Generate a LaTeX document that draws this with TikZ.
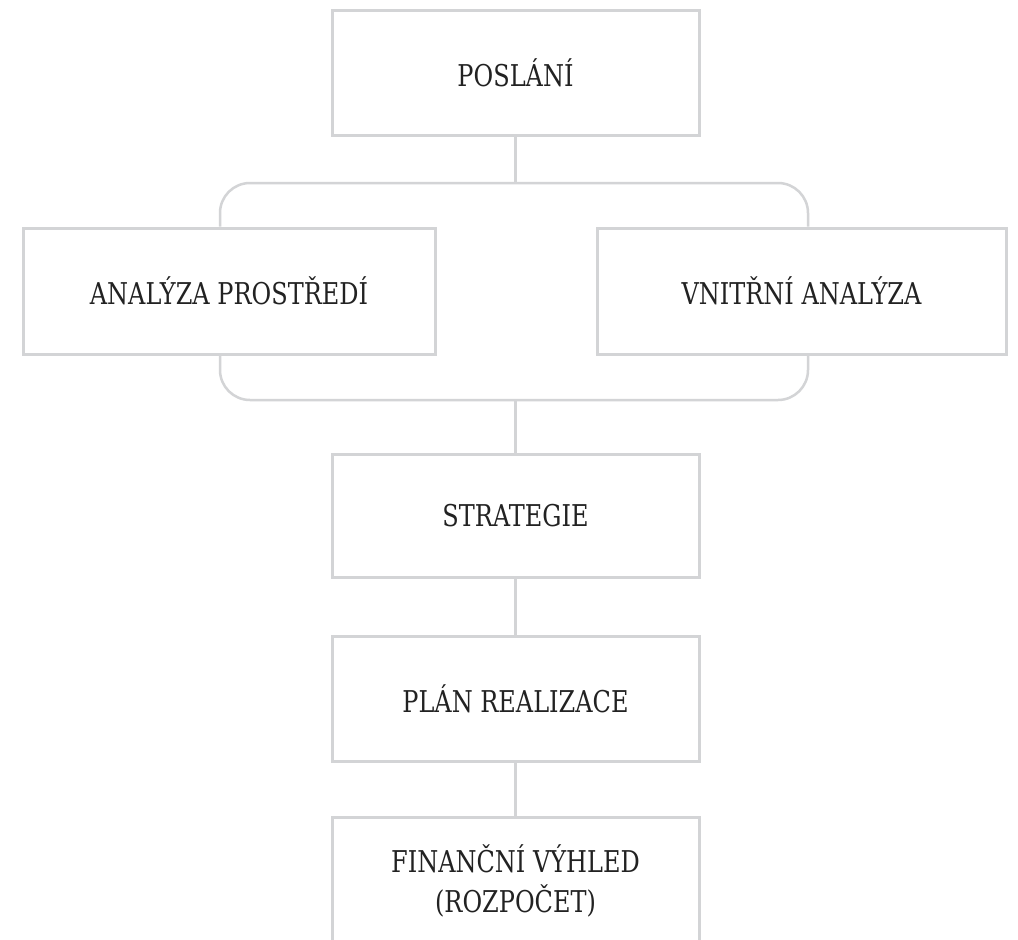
\documentclass[tikz,border=0pt]{standalone}
\usepackage{fontspec}
\setmainfont[FakeStretch=0.8]{DejaVu Serif}
\definecolor{linegray}{HTML}{D3D4D6}
\definecolor{txt}{HTML}{222222}
\begin{document}
\begin{tikzpicture}[x=1pt,y=-1pt,
  box/.style={draw=linegray, line width=3pt, minimum width=367pt, minimum height=125pt, inner sep=0pt, text=txt, font=\fontsize{30}{40}\selectfont, align=center},
  link/.style={draw=linegray, line width=3pt},
  brace/.style={draw=linegray, line width=2.5pt, rounded corners=30pt}]
\useasboundingbox (0,0) rectangle (1018,940);
\clip (0,0) rectangle (1018,940);
\fill[white] (0,0) rectangle (1018,940);
\node[box] (posl) at (515.5,73) {POSLÁNÍ};
\node[box, minimum width=412pt, minimum height=126pt] (env) at (229,291) {ANALÝZA PROSTŘEDÍ};
\node[box, minimum width=409pt, minimum height=126pt] (inner) at (801.5,291) {VNITŘNÍ ANALÝZA};
\node[box, minimum height=123pt] (strat) at (515.5,515.5) {STRATEGIE};
\node[box] (plan) at (515.5,698.5) {PLÁN REALIZACE};
\node[box, minimum height=127pt] (fin) at (515.5,880.5) {FINANČNÍ VÝHLED\\(ROZPOČET)};
\coordinate (tj) at (515.5,183);
\coordinate (bj) at (515.5,400);
\coordinate (xl) at (220,0);
\coordinate (xr) at (808,0);
\draw[link] (posl) -- (tj);
\draw[brace] (xl |- env.north) |- (tj) -| (xr |- inner.north);
\draw[brace] (xl |- env.south) |- (bj) -| (xr |- inner.south);
\draw[link] (bj) -- (strat);
\draw[link] (strat) -- (plan);
\draw[link] (plan) -- (fin);
\end{tikzpicture}
\end{document}
